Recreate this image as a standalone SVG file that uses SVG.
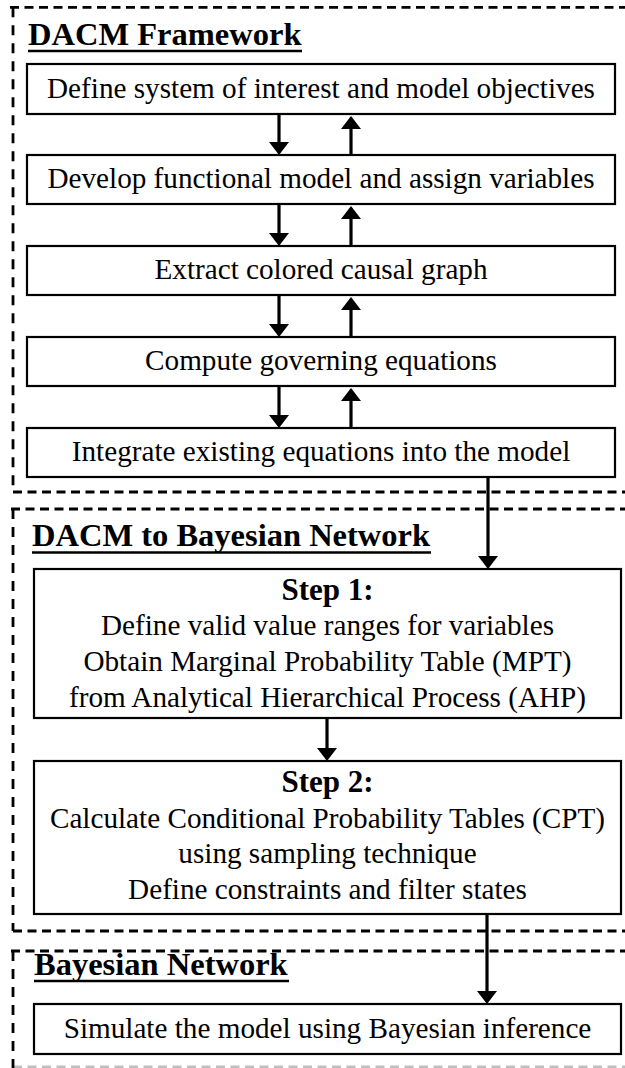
<svg xmlns="http://www.w3.org/2000/svg" width="625" height="1068" viewBox="0 0 625 1068">
<defs>
<style>
.fh{fill:none;stroke:#000;stroke-width:2.8;stroke-dasharray:9 5.5}
.fv{fill:none;stroke:#000;stroke-width:2.8;stroke-dasharray:10 8}
.box{fill:#fff;stroke:#000;stroke-width:2.2}
.t{font-family:"Liberation Serif","Times New Roman",serif;font-size:29.2px;fill:#000;text-anchor:middle}
.s{font-family:"Liberation Serif","Times New Roman",serif;font-size:31px;font-weight:bold;fill:#000;text-anchor:middle}
.h{font-family:"Liberation Serif","Times New Roman",serif;font-size:32.5px;font-weight:bold;fill:#000}
.ul{stroke:#000;stroke-width:2.6}
.arr{stroke:#000;stroke-width:3.2;fill:none;marker-end:url(#ah)}
</style>
<marker id="ah" markerUnits="userSpaceOnUse" viewBox="0 0 14 20" markerWidth="14" markerHeight="20" refX="1" refY="10" orient="auto">
<path d="M0,0 L13,10 L0,20 z" fill="#000"/>
</marker>
</defs>
<rect width="625" height="1068" fill="#fff"/>

<g id="frame-dacm">
<path class="fh" d="M10,7.3 H625 M13,492 H625"/>
<path class="fv" d="M13,7.3 V492"/>
<text class="h" x="28" y="45">DACM Framework</text>
<line class="ul" x1="28" y1="51" x2="302" y2="51"/>
</g>
<g id="frame-dacm-bn">
<path class="fh" d="M11,509 H625 M13,931 H625"/>
<path class="fv" d="M13,509 V931"/>
<text class="h" x="32" y="546">DACM to Bayesian Network</text>
<line class="ul" x1="32" y1="552.5" x2="431" y2="552.5"/>
</g>
<g id="frame-bn">
<path class="fh" d="M11,951 H625"/>
<path class="fh" d="M13,1067 H625" stroke-opacity="0.25"/>
<path class="fv" d="M13,951 V1068"/>
<text class="h" x="34" y="975">Bayesian Network</text>
<line class="ul" x1="34" y1="981" x2="289" y2="981"/>
</g>

<g id="node-define">
<rect class="box" x="27" y="64" width="588" height="50"/>
<text class="t" x="321" y="98">Define system of interest and model objectives</text>
</g>
<g id="node-develop">
<rect class="box" x="27" y="155" width="588" height="49"/>
<text class="t" x="321" y="188">Develop functional model and assign variables</text>
</g>
<g id="node-extract">
<rect class="box" x="27" y="246" width="588" height="49"/>
<text class="t" x="321" y="279">Extract colored causal graph</text>
</g>
<g id="node-compute">
<rect class="box" x="27" y="337" width="588" height="49"/>
<text class="t" x="321" y="370">Compute governing equations</text>
</g>
<g id="node-integrate">
<rect class="box" x="27" y="428" width="588" height="49"/>
<text class="t" x="321" y="461">Integrate existing equations into the model</text>
</g>
<g id="node-step1">
<rect class="box" x="34" y="569" width="587" height="149"/>
<text class="s" x="327.5" y="600">Step 1:</text>
<text class="t" x="327.5" y="635">Define valid value ranges for variables</text>
<text class="t" x="327.5" y="671">Obtain Marginal Probability Table (MPT)</text>
<text class="t" x="327.5" y="707">from Analytical Hierarchical Process (AHP)</text>
</g>
<g id="node-step2">
<rect class="box" x="34" y="761" width="587" height="153"/>
<text class="s" x="327.5" y="792">Step 2:</text>
<text class="t" x="327.5" y="828">Calculate Conditional Probability Tables (CPT)</text>
<text class="t" x="327.5" y="863">using sampling technique</text>
<text class="t" x="327.5" y="899">Define constraints and filter states</text>
</g>
<g id="node-simulate">
<rect class="box" x="34" y="1004" width="587" height="50"/>
<text class="t" x="327.5" y="1038">Simulate the model using Bayesian inference</text>
</g>

<g id="connectors">
<line class="arr" x1="279" y1="114" x2="279" y2="143"/>
<line class="arr" x1="351" y1="155" x2="351" y2="128"/>
<line class="arr" x1="279" y1="204" x2="279" y2="234"/>
<line class="arr" x1="351" y1="246" x2="351" y2="218"/>
<line class="arr" x1="279" y1="295" x2="279" y2="325"/>
<line class="arr" x1="351" y1="337" x2="351" y2="309"/>
<line class="arr" x1="279" y1="386" x2="279" y2="416"/>
<line class="arr" x1="351" y1="428" x2="351" y2="400"/>
<line class="arr" x1="488" y1="477" x2="488" y2="557"/>
<line class="arr" x1="327" y1="718" x2="327" y2="749"/>
<line class="arr" x1="487" y1="914" x2="487" y2="992"/>
</g>
</svg>
